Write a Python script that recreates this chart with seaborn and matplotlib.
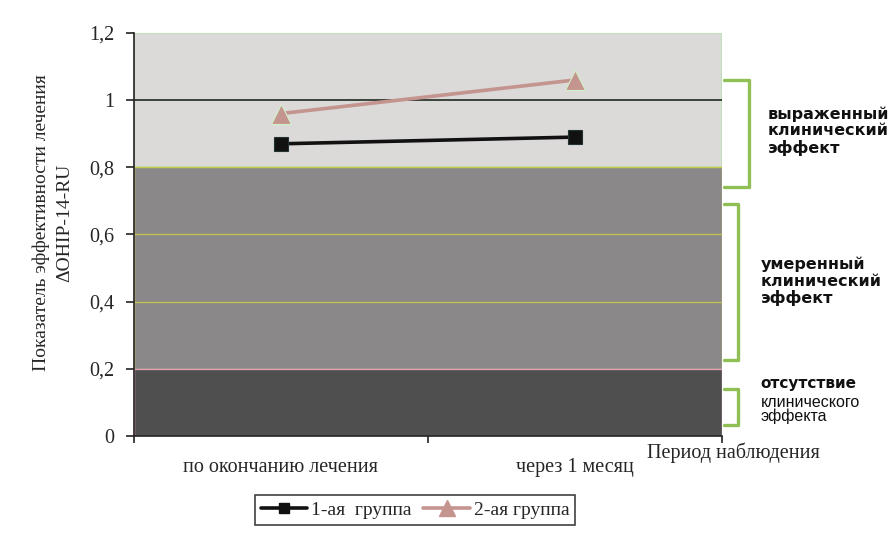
import matplotlib
matplotlib.use("Agg")
import matplotlib.pyplot as plt
import matplotlib.transforms as mtransforms
from matplotlib.lines import Line2D
import seaborn as sns
import pandas as pd

# Observation periods and efficacy index per group
periods = ["по окончанию лечения", "через 1 месяц"]
group_names = ["1-ая  группа", "2-ая группа"]
group1 = [0.87, 0.89]
group2 = [0.96, 1.06]

y_ticks = [0, 0.2, 0.4, 0.6, 0.8, 1.0, 1.2]
y_tick_labels = ["0", "0,2", "0,4", "0,6", "0,8", "1", "1,2"]

# Effect zone captions
zone_captions = ["выраженный\nклинический\nэффект",
                 "умеренный\nклинический\nэффект",
                 "отсутствие\nклинического\nэффекта"]

df = pd.DataFrame({
    "period": list(range(len(periods))) * 2,
    "value": group1 + group2,
    "group": [group_names[0]] * len(group1) + [group_names[1]] * len(group2),
})

sns.set_theme(style="white")
plt.rcParams["font.family"] = ["Liberation Serif", "DejaVu Serif"]

fig = plt.figure(figsize=(8.89, 5.46), dpi=100)
ax = fig.add_axes([0.1507, 0.2015, 0.812 - 0.1507, 0.9396 - 0.2015])

# Zone backgrounds
ax.axhspan(0.8, 1.2, facecolor="#dcd9d9", edgecolor="#b9e3b0", lw=1.2, zorder=0)
ax.axhspan(0.2, 0.8, facecolor="#8a8888", edgecolor="#c8c850", lw=1.0, zorder=0)
ax.axhspan(0.0, 0.2, facecolor="#4f4f4f", edgecolor="#e0a0b8", lw=1.0, zorder=0)
ax.axhline(1.0, color="#1f2a1f", lw=1.2, zorder=1)
for yv in (0.4, 0.6):
    ax.axhline(yv, color="#c8c850", lw=0.9, zorder=1)

palette = {group_names[0]: "#111111", group_names[1]: "#c4948f"}
markers = {group_names[0]: "s", group_names[1]: "^"}
sizes = {group_names[0]: 9.5, group_names[1]: 15}
for name in group_names:
    sub = df[df["group"] == name]
    sns.lineplot(data=sub, x="period", y="value", ax=ax, color=palette[name],
                 marker=markers[name], markersize=sizes[name],
                 markeredgecolor="#d0f0c8" if name == group_names[1] else "#223333",
                 markeredgewidth=0.8, lw=2.6, legend=False, zorder=3)

ax.set_xlim(-0.5, 1.5)
ax.set_ylim(0, 1.2)
ax.set_yticks(y_ticks)
ax.set_yticklabels(y_tick_labels, fontsize=14.5)
ax.set_xticks([-0.5, 0.5, 1.5])
ax.set_xticklabels([])
ax.set_xticks([0, 1], minor=True)
ax.set_xticklabels(periods, minor=True, fontsize=14.5)
ax.tick_params(axis="x", which="minor", length=0, pad=16)
ax.tick_params(axis="x", which="major", length=5, width=1.2, color="#222222", direction="out", bottom=True)
ax.tick_params(axis="y", length=6, width=1.2, color="#222222", direction="out", left=True, pad=8)
ax.set_xlabel("")
ax.set_ylabel("Показатель эффективности лечения\nΔOHIP-14-RU", fontsize=14, linespacing=1.5)
ax.yaxis.set_label_coords(-0.103, 0.53)

for side in ("top", "right"):
    ax.spines[side].set_visible(False)
ax.spines["left"].set_color("#222222")
ax.spines["left"].set_linewidth(1.2)
ax.spines["bottom"].set_color("#222222")
ax.spines["bottom"].set_linewidth(1.2)

ax.text(0.873, -0.015, "Период наблюдения", transform=ax.transAxes, ha="left", va="top",
        fontsize=14.5)

# Zone brackets and captions to the right of the plot area
trans = mtransforms.blended_transform_factory(ax.transAxes, ax.transData)
brackets = [(0.74, 1.06, 0.043), (0.226, 0.69, 0.024), (0.033, 0.14, 0.024)]
for lo, hi, w in brackets:
    ax.add_line(Line2D([1.0035, 1.0035 + w, 1.0035 + w, 1.0035], [hi, hi, lo, lo],
                       transform=trans, color="#8fbf55", lw=2.4, clip_on=False,
                       solid_joinstyle="round"))

cap_style = dict(transform=trans, ha="left", va="center", fontsize=11.5,
                 fontweight="bold", family="DejaVu Sans", linespacing=1.1, color="#111111")
ax.text(1.078, 0.908, zone_captions[0], **cap_style)
ax.text(1.066, 0.46, zone_captions[1], **cap_style)
bottom_lines = zone_captions[2].split("\n")
ax.text(1.066, 0.155, bottom_lines[0], **{**cap_style, "fontsize": 11})
ax.text(1.066, 0.079, "\n".join(bottom_lines[1:]), transform=trans, ha="left", va="center",
        fontsize=11.5, family="Liberation Sans", linespacing=0.95, color="#111111")

handles = [Line2D([], [], color=palette[n], marker=markers[n], markersize=sizes[n] * 0.75,
                  lw=2.6, markeredgecolor=palette[n]) for n in group_names]
leg = fig.legend(handles, group_names, loc="center", bbox_to_anchor=(415 / 889, 1 - 510 / 546),
                 ncol=2, frameon=True, fancybox=False, edgecolor="#111111", fontsize=14,
                 handlelength=2.4, handletextpad=0.2, columnspacing=0.6, borderpad=0.3)
leg.get_frame().set_linewidth(1.2)

fig.savefig("out.png", dpi=100)
